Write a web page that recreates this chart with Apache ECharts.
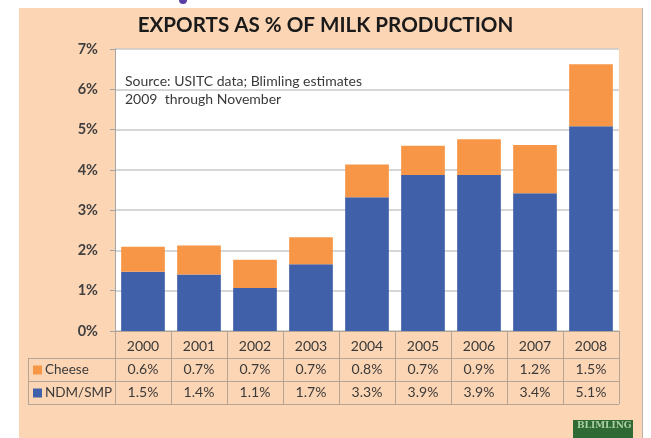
<!DOCTYPE html>
<html>
<head>
<meta charset="utf-8">
<script src="https://cdn.jsdelivr.net/npm/echarts@6/dist/echarts.min.js"></script>
<style>
html,body{margin:0;padding:0;background:#fff;}
#c{width:651px;height:438px;}
</style>
</head>
<body>
<div id="c"></div>
<script>
const years = ['2000','2001','2002','2003','2004','2005','2006','2007','2008'];
const cheese = [0.62, 0.72, 0.70, 0.67, 0.81, 0.73, 0.89, 1.20, 1.54];
const ndmSmp = [1.47, 1.40, 1.07, 1.66, 3.32, 3.87, 3.87, 3.42, 5.08];
const yTicks = [0, 1, 2, 3, 4, 5, 6, 7];
const titleText = 'EXPORTS AS % OF MILK PRODUCTION';
const noteLines = ['Source: USITC data; Blimling estimates', '2009  through November'];

const FONT = 'Lato, "Open Sans", sans-serif';
const TXT = '#3a3a3a';
const LINE = '#b3a495';

const chart = echarts.init(document.getElementById('c'), null, {renderer: 'canvas'});
chart.setOption({
  animation: false,
  backgroundColor: '#ffffff',
  textStyle: {fontFamily: FONT},
  title: {
    text: titleText,
    left: 'center',
    top: 10,
    textStyle: {fontFamily: FONT, fontSize: 20.6, fontWeight: 'bold', color: '#1a1a1a'}
  },
  graphic: [
    {type: 'rect', z: -10, shape: {x: 19, y: 8, width: 623, height: 440}, style: {fill: '#fcd5b4'}},
    {type: 'line', z: -9, shape: {x1: 642.5, y1: 8, x2: 642.5, y2: 438}, style: {stroke: '#b9b2ab', lineWidth: 1}},
    {type: 'circle', shape: {cx: 183, cy: 0, r: 4}, style: {fill: '#5a3fa6'}},
    {type: 'text', left: 125, top: 72, z: 10, style: {text: noteLines.join('\n'), font: '14px ' + FONT, fill: TXT, lineHeight: 18}},
    {type: 'line', shape: {x1: 28, y1: 358.5, x2: 619, y2: 358.5}, style: {stroke: LINE, lineWidth: 1}},
    {type: 'line', shape: {x1: 28, y1: 381.5, x2: 619, y2: 381.5}, style: {stroke: LINE, lineWidth: 1}},
    {type: 'line', shape: {x1: 28, y1: 404.5, x2: 619, y2: 404.5}, style: {stroke: LINE, lineWidth: 1}},
    {type: 'line', shape: {x1: 28.5, y1: 358, x2: 28.5, y2: 405}, style: {stroke: LINE, lineWidth: 1}},
    {type: 'rect', shape: {x: 573, y: 420, width: 60, height: 20}, style: {fill: '#2f6a34'}},
    {type: 'text', left: 577, top: 421, style: {text: 'BLIMLING', font: 'bold 9px "DejaVu Serif", serif', fill: '#a9cfa3'}}
  ],
  grid: {
    left: 115, right: 32, top: 49, bottom: 107,
    show: true, backgroundColor: '#ffffff', borderWidth: 0
  },
  legend: {
    data: ['Cheese', 'NDM/SMP'],
    orient: 'vertical',
    left: 28, top: 358,
    itemWidth: 9, itemHeight: 9, itemGap: 9,
    icon: 'rect',
    textStyle: {fontFamily: FONT, fontSize: 13.5, color: TXT, padding: [0, 0, 0, -2]}
  },
  xAxis: {
    type: 'category',
    data: years,
    axisLine: {show: true, lineStyle: {color: LINE, width: 1}},
    axisTick: {show: true, length: 73, interval: 0, lineStyle: {color: LINE}},
    axisLabel: {
      margin: 4,
      interval: 0,
      formatter: function (v, i) {
        return '{y|' + v + '}\n{v|' + cheese[i].toFixed(1) + '%}\n{v|' + ndmSmp[i].toFixed(1) + '%}';
      },
      rich: {
        y: {fontFamily: FONT, fontSize: 14, color: TXT, lineHeight: 23},
        v: {fontFamily: FONT, fontSize: 14, color: TXT, lineHeight: 23}
      }
    }
  },
  yAxis: {
    type: 'value',
    min: yTicks[0], max: yTicks[yTicks.length - 1], interval: 1,
    axisLine: {show: true, lineStyle: {color: '#a6a6a6'}},
    axisTick: {show: true, length: 5, lineStyle: {color: '#a6a6a6'}},
    axisLabel: {margin: 17, formatter: '{value}%', fontFamily: FONT, fontSize: 14.5, fontWeight: 'bold', color: '#404040'},
    splitLine: {show: true, lineStyle: {color: '#c8c8c8', width: 1.5}}
  },
  series: [
    {name: 'NDM/SMP', type: 'bar', stack: 'total', data: ndmSmp, barCategoryGap: '22%', itemStyle: {color: '#4061a9'}},
    {name: 'Cheese', type: 'bar', stack: 'total', data: cheese, barCategoryGap: '22%', itemStyle: {color: '#f79646'}}
  ]
});
</script>
</body>
</html>
